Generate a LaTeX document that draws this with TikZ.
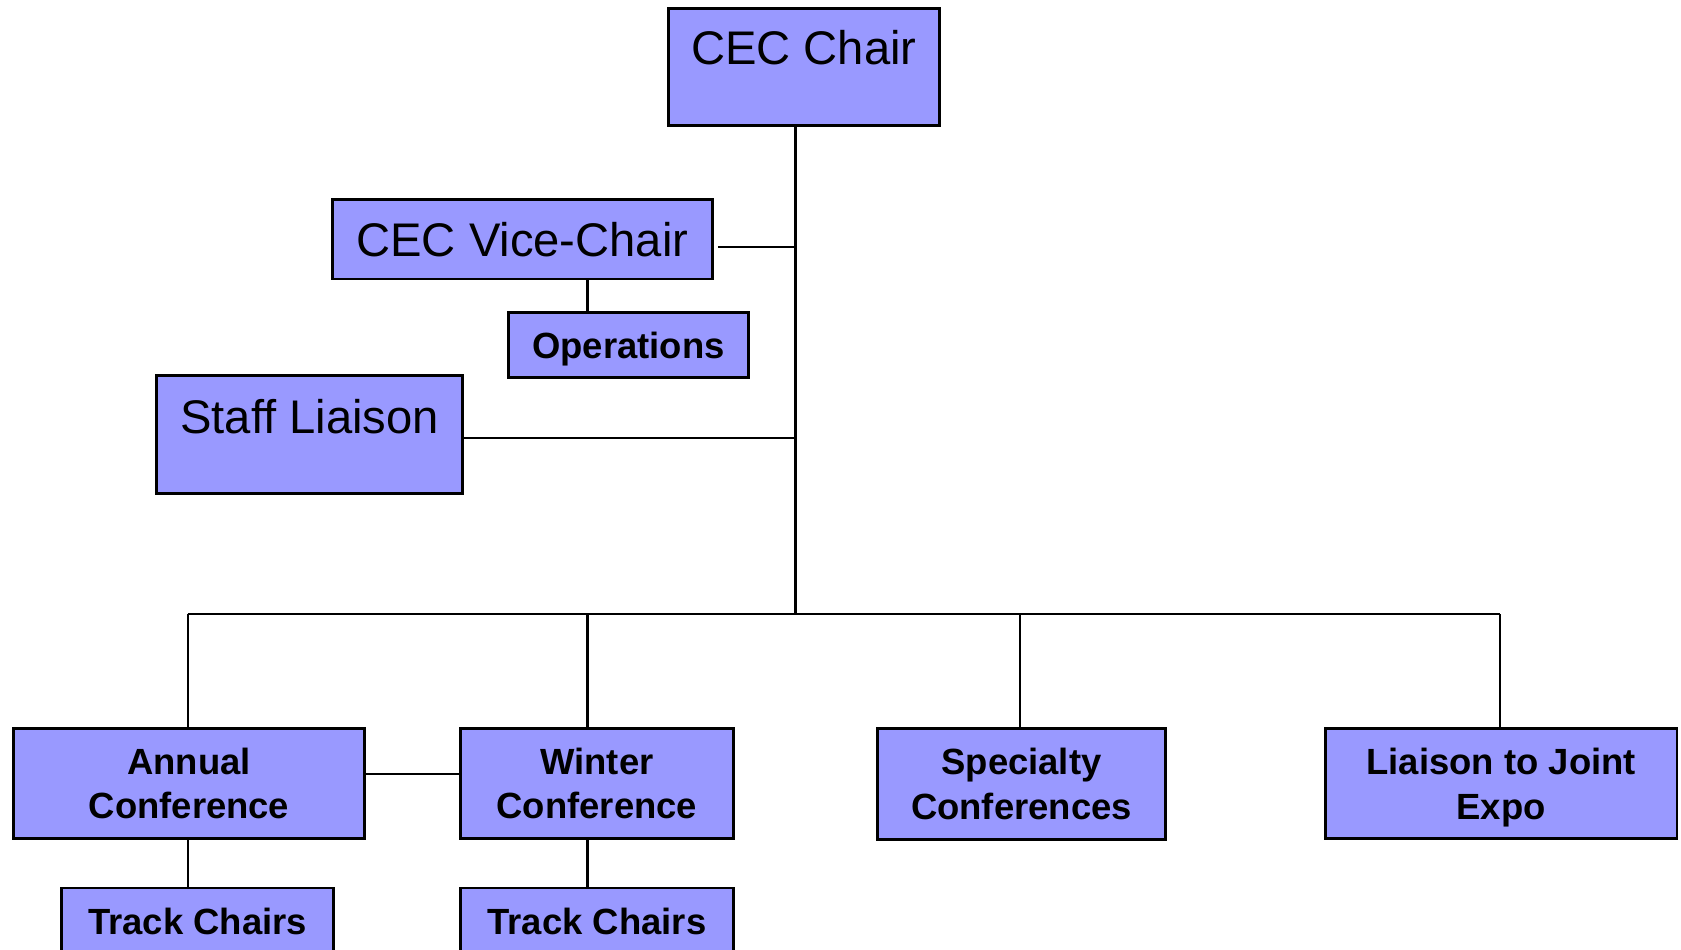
\documentclass[tikz,border=0pt]{standalone}
\usepackage{fontspec}
\setmainfont{Liberation Sans}
\definecolor{boxfill}{HTML}{9999FF}
\begin{document}
\begin{tikzpicture}[x=0.5pt,y=-0.5pt,
  orgbox/.style={draw=black,line width=1.3pt,fill=boxfill,inner sep=0pt,anchor=north west},
  bigtext/.style={font=\fontsize{22pt}{26pt}\selectfont},
  boldtext/.style={font=\fontsize{17pt}{20.85pt}\selectfont\bfseries,align=center},
  conn/.style={draw=black,line width=0.95pt}]
\clip (0,0) rectangle (1568,886);
\fill[white] (0,0) rectangle (1568,886);
% boxes
\node[orgbox,bigtext,minimum width=126.5pt,text height=26pt,text depth=28.5pt] (chair) at (622,7) {CEC Chair};
\node[orgbox,bigtext,minimum width=177pt,text height=26.5pt,text depth=10.5pt] (vice) at (309,185) {CEC Vice-Chair};
\node[orgbox,boldtext,minimum width=112pt,text height=21.35pt,text depth=9.15pt] (ops) at (473,290) {Operations};
\node[orgbox,bigtext,minimum width=142.5pt,text height=26.85pt,text depth=28.15pt] (staff) at (145,349) {Staff Liaison};
\node[orgbox,boldtext,minimum width=164pt,minimum height=51.5pt] (annual) at (11,678) {Annual\\Conference};
\node[orgbox,boldtext,minimum width=127.5pt,minimum height=51.5pt] (winter) at (428,678) {Winter\\Conference};
\node[orgbox,boldtext,minimum width=134.5pt,minimum height=52pt] (special) at (817,678) {Specialty\\Conferences};
\node[orgbox,boldtext,minimum width=164pt,minimum height=51.5pt] (joint) at (1235,678) {Liaison to Joint\\\smash{Expo}};
\node[orgbox,boldtext,minimum width=127pt,text height=21.8pt,text depth=18.2pt] (track1) at (56,827) {Track Chairs};
\node[orgbox,boldtext,minimum width=127.5pt,text height=21.8pt,text depth=18.2pt] (track2) at (428,827) {Track Chairs};
% connector points
\coordinate (bus) at (742,573);
\coordinate (busL) at (175,573);
\coordinate (busR) at (1399,573);
\coordinate (xa) at (548,0);
\coordinate (xv) at (548,573);
\coordinate (xs) at (951,573);
% connectors
\draw[conn] (chair.south -| bus) -- (bus);
\draw[conn] ([xshift=2pt]vice.east |- 0,230) -- (742,230);
\draw[conn] (staff.east |- 0,409) -- (742,409);
\draw[conn] (vice.south -| xa) -- (ops.north -| xa);
\draw[conn] (busL) -- (busR);
\draw[conn] (busL) -- (annual.north -| busL);
\draw[conn] (xv) -- (winter.north -| xv);
\draw[conn] (xs) -- (special.north -| xs);
\draw[conn] (busR) -- (joint.north -| busR);
\draw[conn] (annual.east |- 0,722) -- (winter.west |- 0,722);
\draw[conn] (annual.south -| busL) -- (track1.north -| busL);
\draw[conn] (winter.south -| xa) -- (track2.north -| xa);
\end{tikzpicture}
\end{document}
